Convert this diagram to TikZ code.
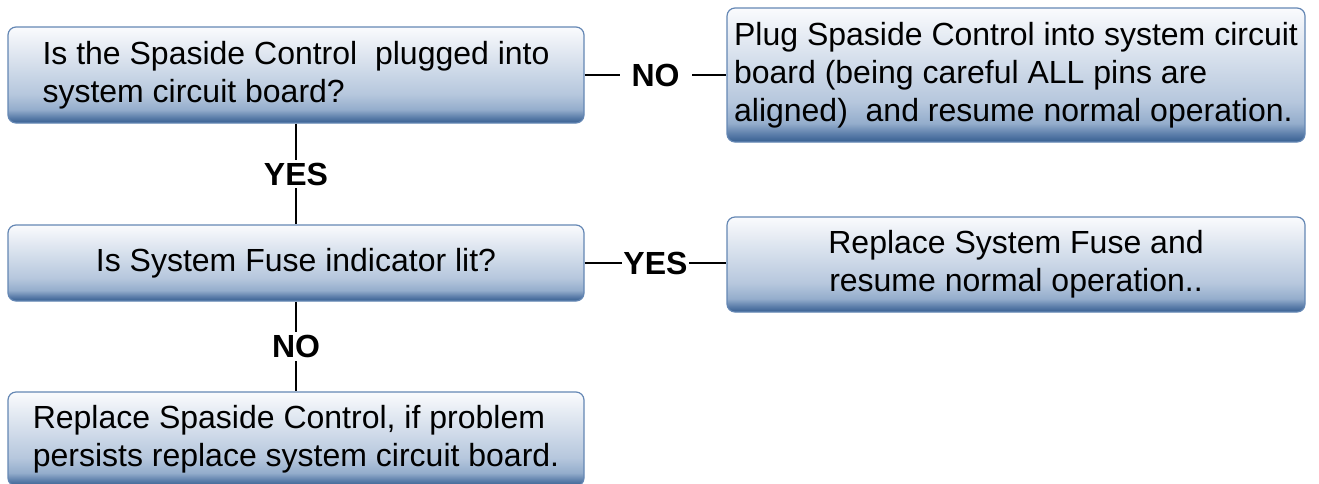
\documentclass[tikz,border=0pt]{standalone}
\usepackage{fontspec}
\setmainfont{Liberation Sans}
\definecolor{boxline}{RGB}{100,135,180}
\definecolor{boxtop}{RGB}{250,251,253}
\definecolor{boxmid}{RGB}{182,199,221}
\definecolor{boxlow}{RGB}{148,173,204}
\definecolor{boxdeep}{RGB}{92,126,170}
\definecolor{boxbot}{RGB}{55,95,145}
\pgfdeclareverticalshading{boxfade}{100bp}{color(0bp)=(boxbot); color(25bp)=(boxbot);
  color(28bp)=(boxdeep); color(32bp)=(boxlow); color(40bp)=(boxmid);
  color(75bp)=(boxtop); color(100bp)=(boxtop)}
\begin{document}
\begin{tikzpicture}[x=1pt,y=-1pt,
    stepbox/.style={draw=boxline,line width=1.2pt,rounded corners=8pt,
      shading=boxfade,align=left,inner sep=0pt,
      font=\fontsize{32}{38}\selectfont},
    answer/.style={fill=white,inner xsep=4pt,inner ysep=3pt,
      font=\fontsize{32}{34}\selectfont\bfseries},
    link/.style={line width=2.6pt}]
 \useasboundingbox (0,0) rectangle (1319,483);
 % questions on the left, actions on the right
 \node[stepbox,minimum width=576pt,minimum height=96pt] (q1) at (296,75)
  {Is the Spaside Control~ plugged into\\system circuit board?};
 \node[stepbox,minimum width=578pt,minimum height=134pt] (a1) at (1016,75)
  {Plug Spaside Control into system circuit\\board (being careful ALL pins are\\aligned)~ and resume normal operation.};
 \node[stepbox,minimum width=576pt,minimum height=76pt] (q2) at (296,263)
  {Is System Fuse indicator lit?};
 \node[stepbox,minimum width=578pt,minimum height=95pt,align=center] (a2) at (1016,264.5)
  {Replace System Fuse and\\resume normal operation..};
 \node[stepbox,minimum width=576pt,minimum height=94pt] (a3) at (296,439)
  {Replace Spaside Control, if problem\\persists replace system circuit board.};
 \draw[link] (q1.east) -- node[answer,inner xsep=12pt] (no1) {NO} (a1.west);
 \draw[link] (q1.south) -- node[answer] (yes1) {YES} (q2.north);
 \draw[link] (q2.east) -- node[answer,inner xsep=1pt] (yes2) {YES} (q2.east -| a2.west);
 \draw[link] (q2.south) -- node[answer] (no2) {NO} (a3.north);
\end{tikzpicture}
\end{document}
